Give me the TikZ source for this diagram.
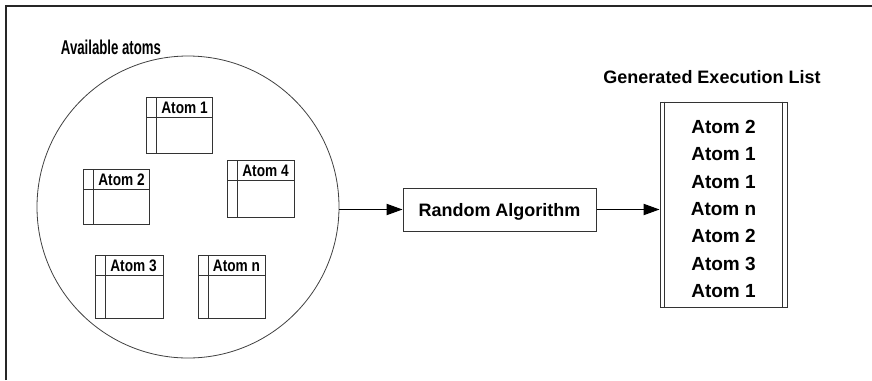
\documentclass[tikz,border=0pt]{standalone}
\usepackage{fontspec}
\setmainfont{Liberation Sans}
\newfontfamily\narrowfont[FakeStretch=0.66]{Liberation Sans}
\newfontfamily\atomfont[FakeStretch=0.82]{Liberation Sans}
\usetikzlibrary{positioning,arrows.meta}

\tikzset{
  frameline/.style={line width=0.8pt, black!85},
  boxline/.style={line width=0.75pt, black!80},
  arr/.style={line width=0.75pt, -{Triangle[length=12pt,width=8.5pt]}},
  headtitle/.style={font=\narrowfont\bfseries\fontsize{15}{17}\selectfont, inner sep=0pt},
  listtitle/.style={font=\bfseries\fontsize{13.5}{15}\selectfont, inner sep=0pt},
  atomlbl/.style={font=\atomfont\bfseries\fontsize{12.5}{14}\selectfont, inner sep=0pt, text depth=0pt},
  pool/.style={draw=black!75, line width=0.6pt, circle, minimum size=226.5pt, inner sep=0pt},
  randbox/.style={draw=black!80, line width=0.75pt, minimum width=144.75pt, minimum height=32.25pt,
    inner sep=0pt, text depth=0pt, font=\bfseries\fontsize{13.5}{15}\selectfont},
  listbox/.style={draw=black!80, line width=0.75pt, minimum width=95.25pt, minimum height=153.75pt, inner sep=0pt},
  item/.style={font=\bfseries\fontsize{14.25}{16}\selectfont, inner sep=0pt, text depth=0pt}
}

% x, y (top left), width, height, name, label
\newcommand{\atombox}[6]{%
  \draw[boxline] (#1,#2) rectangle ++(#3,#4);
  \draw[boxline] (#1+10,#2) -- ++(0,#4);
  \draw[boxline] (#1,#2+20) -- ++(#3,0);
  \node[atomlbl] (#5) at (#1+38.5,#2+10.5) {#6};
}

\begin{document}
\begin{tikzpicture}[x=0.75pt,y=-0.75pt]
\useasboundingbox (0,0) rectangle (872,380);
%
\draw[frameline] (6,380) -- (6,6) -- (872,6);
%
\node[headtitle] (avail) at (111,47.5) {Available atoms};
\node[pool] (pool) at (188,207) {};
\atombox{146}{97}{66}{56}{a1}{Atom 1}
\atombox{83}{169}{66}{55}{a2}{Atom 2}
\atombox{227}{160}{67}{57}{a4}{Atom 4}
\atombox{95}{255}{68}{63}{a3}{Atom 3}
\atombox{198}{255}{67}{63}{an}{Atom n}
%
\node[randbox] (rand) at (499.5,209.5) {Random Algorithm};
%
\node[listtitle] (gen) at (712,77) {Generated Execution List};
\node[listbox] (exec) at (723.5,204.5) {};
\draw[boxline] ([xshift=3.75pt]exec.north west) -- ([xshift=3.75pt]exec.south west);
\draw[boxline] ([xshift=-3.75pt]exec.north east) -- ([xshift=-3.75pt]exec.south east);
\node[item] (e1) at (723.5,127) {Atom 2};
\node[item] (e2) at (723.5,154.3) {Atom 1};
\node[item] (e3) at (723.5,181.6) {Atom 1};
\node[item] (e4) at (723.5,208.9) {Atom n};
\node[item] (e5) at (723.5,236.2) {Atom 2};
\node[item] (e6) at (723.5,263.5) {Atom 3};
\node[item] (e7) at (723.5,290.8) {Atom 1};
%
\draw[arr] (pool.east |- rand.west) -- (rand.west);
\draw[arr] (rand.east) -- (rand.east -| exec.west);
\end{tikzpicture}
\end{document}
